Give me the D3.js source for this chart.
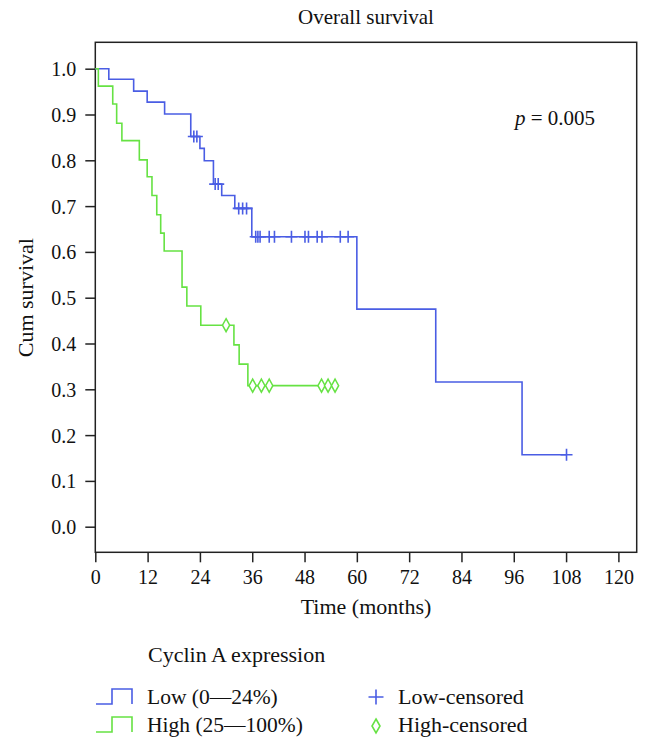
<!DOCTYPE html>
<html>
<head>
<meta charset="utf-8">
<script src="https://cdn.jsdelivr.net/npm/d3@7"></script>
<style>
  html, body { margin: 0; padding: 0; background: #fff; }
  svg { display: block; }
  text { font-family: "Liberation Serif", "DejaVu Serif", serif; fill: #111; }
</style>
</head>
<body>
<svg id="chart" width="650" height="751"></svg>
<script>
// ---- data ----
const title = "Overall survival";
const xLabel = "Time (months)";
const yLabel = "Cum survival";
const pText = "= 0.005";
const xTicks = [0, 12, 24, 36, 48, 60, 72, 84, 96, 108, 120];
const yTicks = [0.0, 0.1, 0.2, 0.3, 0.4, 0.5, 0.6, 0.7, 0.8, 0.9, 1.0];

// Low cyclin A: step changes [time, cumulative survival]
const lowTimes = [0, 3.1, 8.8, 11.9, 15.9, 21.9, 24.0, 25.0, 27.1, 29.0, 32.0, 35.9, 60.0, 78.1, 97.9];
const lowSurv  = [1.0, 0.977, 0.951, 0.927, 0.901, 0.852, 0.826, 0.799, 0.748, 0.723, 0.695, 0.633, 0.475, 0.316, 0.157];
const lowEnd = 108.1;
const lowCensored = [22.6, 23.3, 27.5, 28.2, 32.9, 33.8, 34.7, 36.8, 37.3, 37.8, 39.9, 41.1, 45.0, 48.1, 48.9, 50.9, 52.0, 56.2, 58.0, 108.1];

// High cyclin A
const highTimes = [0, 0.7, 4.0, 4.9, 6.1, 10.1, 11.9, 13.0, 14.1, 15.0, 15.8, 19.9, 21.0, 24.2, 31.8, 33.0, 35.0];
const highSurv  = [1.0, 0.962, 0.923, 0.881, 0.843, 0.801, 0.764, 0.723, 0.681, 0.641, 0.602, 0.523, 0.482, 0.440, 0.397, 0.355, 0.308];
const highEnd = 55.0;
const highCensored = [30.0, 36.1, 38.1, 39.9, 51.9, 53.4, 55.0];

const legendTitle = "Cyclin A expression";
const legendSeries = ["Low (0\u201424%)", "High (25\u2014100%)"];
const legendCensor = ["Low-censored", "High-censored"];

// ---- styles ----
const blue = "#4a5de4";
const green = "#66e243";
const axisColor = "#222";
const fsTick = 20;
const fs = 21.5;

// ---- layout ----
const svg = d3.select("#chart");
const L = 95.3, R = 636.7, T = 42.3, B = 552.3;
const y0px = 526.7, y1px = 68.7;
const yPer = y0px - y1px;
const x = d3.scaleLinear().domain([0, 124.2]).range([L, R]);
const y = d3.scaleLinear().domain([(y0px - B) / yPer, 1 + (y1px - T) / yPer]).range([B, T]);

// axes
const yAxis = d3.axisLeft(y).tickValues(yTicks).tickSize(10).tickPadding(9).tickFormat(d3.format(".1f"));
const gy = svg.append("g").attr("transform", `translate(${L},0)`).call(yAxis);
const xAxis = d3.axisBottom(x).tickValues(xTicks).tickSize(10).tickPadding(8).tickFormat(d3.format("d"));
const gx = svg.append("g").attr("transform", `translate(0,${B})`).call(xAxis);
[gx, gy].forEach(g => {
  g.select(".domain").remove();
  g.selectAll(".tick line").attr("stroke", axisColor).attr("stroke-width", 1.5);
  g.selectAll(".tick text").style("font-size", fsTick + "px").attr("fill", "#111")
    .style("font-family", '"Liberation Serif", "DejaVu Serif", serif');
});
gy.selectAll(".tick text").attr("dy", "0.35em");

// frame
svg.append("rect").attr("x", L).attr("y", T).attr("width", R - L).attr("height", B - T)
  .attr("fill", "none").attr("stroke", axisColor).attr("stroke-width", 1.5);

// step function helper
function stepAt(times, surv, t) {
  let s = surv[0];
  for (let i = 0; i < times.length; i++) if (times[i] <= t) s = surv[i];
  return s;
}
const line = d3.line().x(d => x(d[0])).y(d => y(d[1])).curve(d3.curveStepAfter);

function drawSeries(times, surv, end, color) {
  const pts = times.map((t, i) => [t, surv[i]]);
  pts.push([end, surv[surv.length - 1]]);
  svg.append("path").datum(pts).attr("d", line)
    .attr("fill", "none").attr("stroke", color).attr("stroke-width", 1.6);
}
drawSeries(lowTimes, lowSurv, lowEnd, blue);
drawSeries(highTimes, highSurv, highEnd, green);

// censor marks
function plusPath(h) { return `M${-h},0H${h}M0,${-h}V${h}`; }
function diamondPath(w, h) { return `M0,${-h}L${w},0L0,${h}L${-w},0Z`; }

svg.append("g").selectAll("path").data(lowCensored).join("path")
  .attr("transform", d => `translate(${x(d)},${y(stepAt(lowTimes, lowSurv, d))})`)
  .attr("d", plusPath(6)).attr("stroke", blue).attr("stroke-width", 1.6).attr("fill", "none");

svg.append("g").selectAll("path").data(highCensored).join("path")
  .attr("transform", d => `translate(${x(d)},${y(stepAt(highTimes, highSurv, d))})`)
  .attr("d", diamondPath(3.6, 6.5)).attr("stroke", green).attr("stroke-width", 1.5).attr("fill", "#fff");

// texts
svg.append("text").attr("x", (L + R) / 2).attr("y", 24).attr("text-anchor", "middle")
  .style("font-size", "21px").text(title);
svg.append("text").attr("x", (L + R) / 2).attr("y", 614).attr("text-anchor", "middle")
  .style("font-size", "22px").text(xLabel);
svg.append("text").attr("transform", `translate(33,${(y(0) + y(1)) / 2}) rotate(-90)`)
  .attr("text-anchor", "middle").style("font-size", "22px").text(yLabel);
const pt = svg.append("text").attr("x", 515).attr("y", 125).style("font-size", "21px");
pt.append("tspan").style("font-style", "italic").text("p");
pt.append("tspan").text(" " + pText);

// legend
svg.append("text").attr("x", 148).attr("y", 662).style("font-size", "22px").text(legendTitle);
const legColors = [blue, green];
const legY = [704, 732];
legendSeries.forEach((lab, i) => {
  const yb = legY[i], yt = legY[i] - 15;
  svg.append("path").attr("d", `M96,${yb}H112V${yt}H132V${yb}`)
    .attr("fill", "none").attr("stroke", legColors[i]).attr("stroke-width", 1.6);
  svg.append("text").attr("x", 147).attr("y", yb).style("font-size", fs + "px").text(lab);
  svg.append("text").attr("x", 398).attr("y", yb).style("font-size", "22px").text(legendCensor[i]);
});
svg.append("path").attr("transform", `translate(376,697)`).attr("d", plusPath(7.5))
  .attr("stroke", blue).attr("stroke-width", 1.6).attr("fill", "none");
svg.append("path").attr("transform", `translate(376,726)`).attr("d", diamondPath(4, 7))
  .attr("stroke", green).attr("stroke-width", 1.6).attr("fill", "#fff");
</script>
</body>
</html>
